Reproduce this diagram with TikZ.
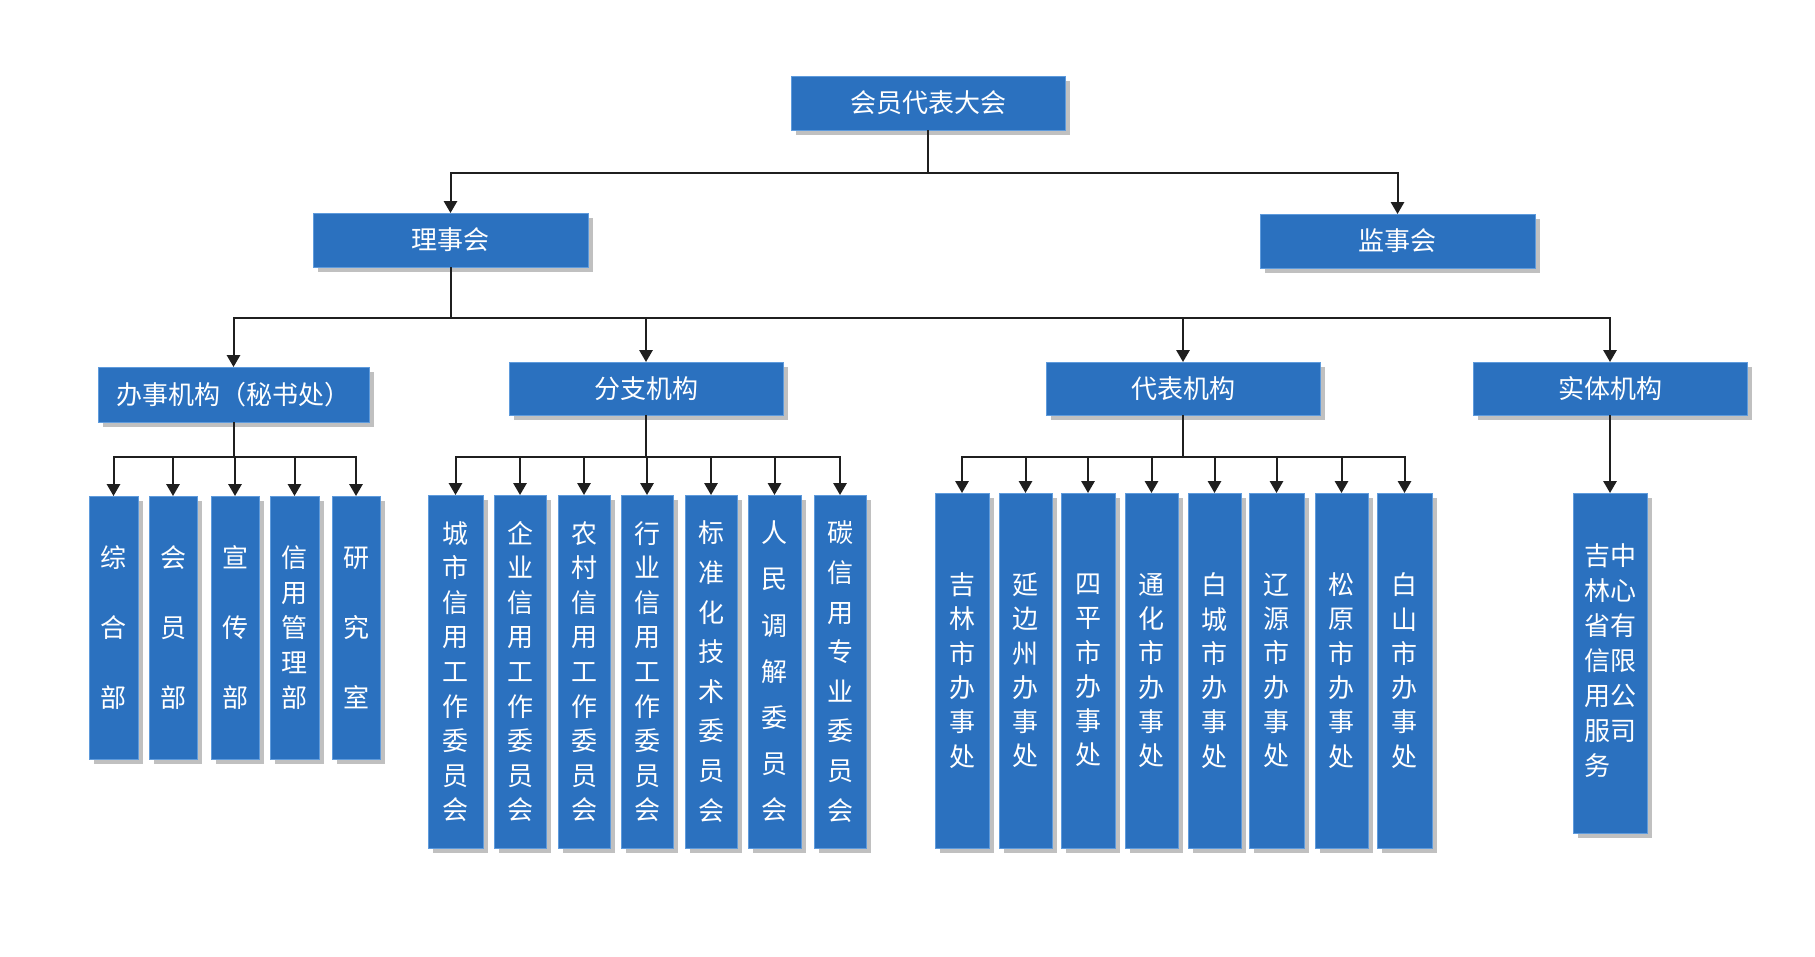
\documentclass[tikz,border=0pt]{standalone}
\usepackage{fontspec}
\newfontfamily\cjk{Noto Sans CJK SC}
\usetikzlibrary{arrows.meta,calc}
\definecolor{boxblue}{RGB}{43,113,191}
\definecolor{boxedge}{RGB}{95,155,220}
\definecolor{shadowc}{RGB}{192,192,192}
\tikzset{
 orgbox/.style={fill=boxblue, draw=boxedge, line width=0.6pt, text=white, inner sep=0pt, outer sep=0pt, align=center},
 conn/.style={draw=black!88, line width=1.5pt, -{Triangle[width=10pt,length=9pt]}}
}
% name, x1, y1, x2, y2, line spacing (pt), text
\newcommand\obox[7]{%
  \fill[shadowc] ({#2+5},{#3+5}) rectangle ({#4+5},{#5+5});
  \node[orgbox, minimum width={(#4-#2)*0.75pt}, minimum height={(#5-#3)*0.75pt},
        font={\cjk\fontsize{19.5pt}{#6}\selectfont}] (#1) at ({(#2+#4)/2},{(#3+#5)/2}) {#7};
}
\begin{document}
\begin{tikzpicture}[x=0.75pt,y=-0.75pt]
\useasboundingbox (0,0) rectangle (1815,956);
\fill[white] (0,0) rectangle (1815,956);

% level 1 and 2
\obox{top}{791}{76}{1065}{130}{24pt}{会员代表大会}
\obox{lsh}{313}{213}{588}{267}{24pt}{理事会}
\obox{jsh}{1260}{214}{1535}{268}{24pt}{监事会}

% level 3
\obox{bs}{98}{367}{369}{422}{24pt}{办事机构（秘书处）}
\obox{fz}{509}{362}{783}{415}{24pt}{分支机构}
\obox{db}{1046}{362}{1320}{415}{24pt}{代表机构}
\obox{st}{1473}{362}{1747}{415}{24pt}{实体机构}

% children of 办事机构
\obox{b1}{89}{496}{138}{759}{52.5pt}{综\\合\\部}
\obox{b2}{149}{496}{197}{759}{52.5pt}{会\\员\\部}
\obox{b3}{211}{496}{259}{759}{52.5pt}{宣\\传\\部}
\obox{b4}{270}{496}{319}{759}{26.25pt}{信\\用\\管\\理\\部}
\obox{b5}{332}{496}{380}{759}{52.5pt}{研\\究\\室}

% children of 分支机构
\obox{f1}{428}{495}{483}{848}{25.95pt}{城\\市\\信\\用\\工\\作\\委\\员\\会}
\obox{f2}{494}{495}{546}{848}{25.95pt}{企\\业\\信\\用\\工\\作\\委\\员\\会}
\obox{f3}{558}{495}{610}{848}{25.95pt}{农\\村\\信\\用\\工\\作\\委\\员\\会}
\obox{f4}{621}{495}{673}{848}{25.95pt}{行\\业\\信\\用\\工\\作\\委\\员\\会}
\obox{f5}{685}{495}{737}{848}{29.7pt}{标\\准\\化\\技\\术\\委\\员\\会}
\obox{f6}{748}{495}{801}{848}{34.65pt}{人\\民\\调\\解\\委\\员\\会}
\obox{f7}{814}{495}{866}{848}{29.7pt}{碳\\信\\用\\专\\业\\委\\员\\会}

% children of 代表机构
\obox{d1}{935}{493}{989}{848}{25.7pt}{吉\\林\\市\\办\\事\\处}
\obox{d2}{999}{493}{1052}{848}{25.7pt}{延\\边\\州\\办\\事\\处}
\obox{d3}{1061}{493}{1115}{848}{25.7pt}{四\\平\\市\\办\\事\\处}
\obox{d4}{1125}{493}{1178}{848}{25.7pt}{通\\化\\市\\办\\事\\处}
\obox{d5}{1188}{493}{1241}{848}{25.7pt}{白\\城\\市\\办\\事\\处}
\obox{d6}{1249}{493}{1304}{848}{25.7pt}{辽\\源\\市\\办\\事\\处}
\obox{d7}{1315}{493}{1368}{848}{25.7pt}{松\\原\\市\\办\\事\\处}
\obox{d8}{1377}{493}{1432}{848}{25.7pt}{白\\山\\市\\办\\事\\处}

% child of 实体机构
\obox{s1}{1573}{493}{1647}{833}{26.25pt}{\begin{tabular}{@{}l@{}}吉中\\林心\\省有\\信限\\用公\\服司\\务\end{tabular}}

% bus levels
\coordinate (busA) at (0,173);
\coordinate (busB) at (0,318);
\coordinate (busC) at (0,457);

% connectors
\foreach \c in {lsh,jsh}
  \draw[conn] (top.south) -- (top.south |- busA) -| (\c.north);
\foreach \c in {bs,fz,db,st}
  \draw[conn] (lsh.south) -- (lsh.south |- busB) -| (\c.north);
\foreach \c in {b1,b2,b3,b4,b5}
  \draw[conn] (bs.south) -- (bs.south |- busC) -| (\c.north);
\foreach \c in {f1,f2,f3,f4,f5,f6,f7}
  \draw[conn] (fz.south) -- (fz.south |- busC) -| (\c.north);
\foreach \c in {d1,d2,d3,d4,d5,d6,d7,d8}
  \draw[conn] (db.south) -- (db.south |- busC) -| (\c.north);
\draw[conn] (st.south) -- (s1.north);
\end{tikzpicture}
\end{document}
